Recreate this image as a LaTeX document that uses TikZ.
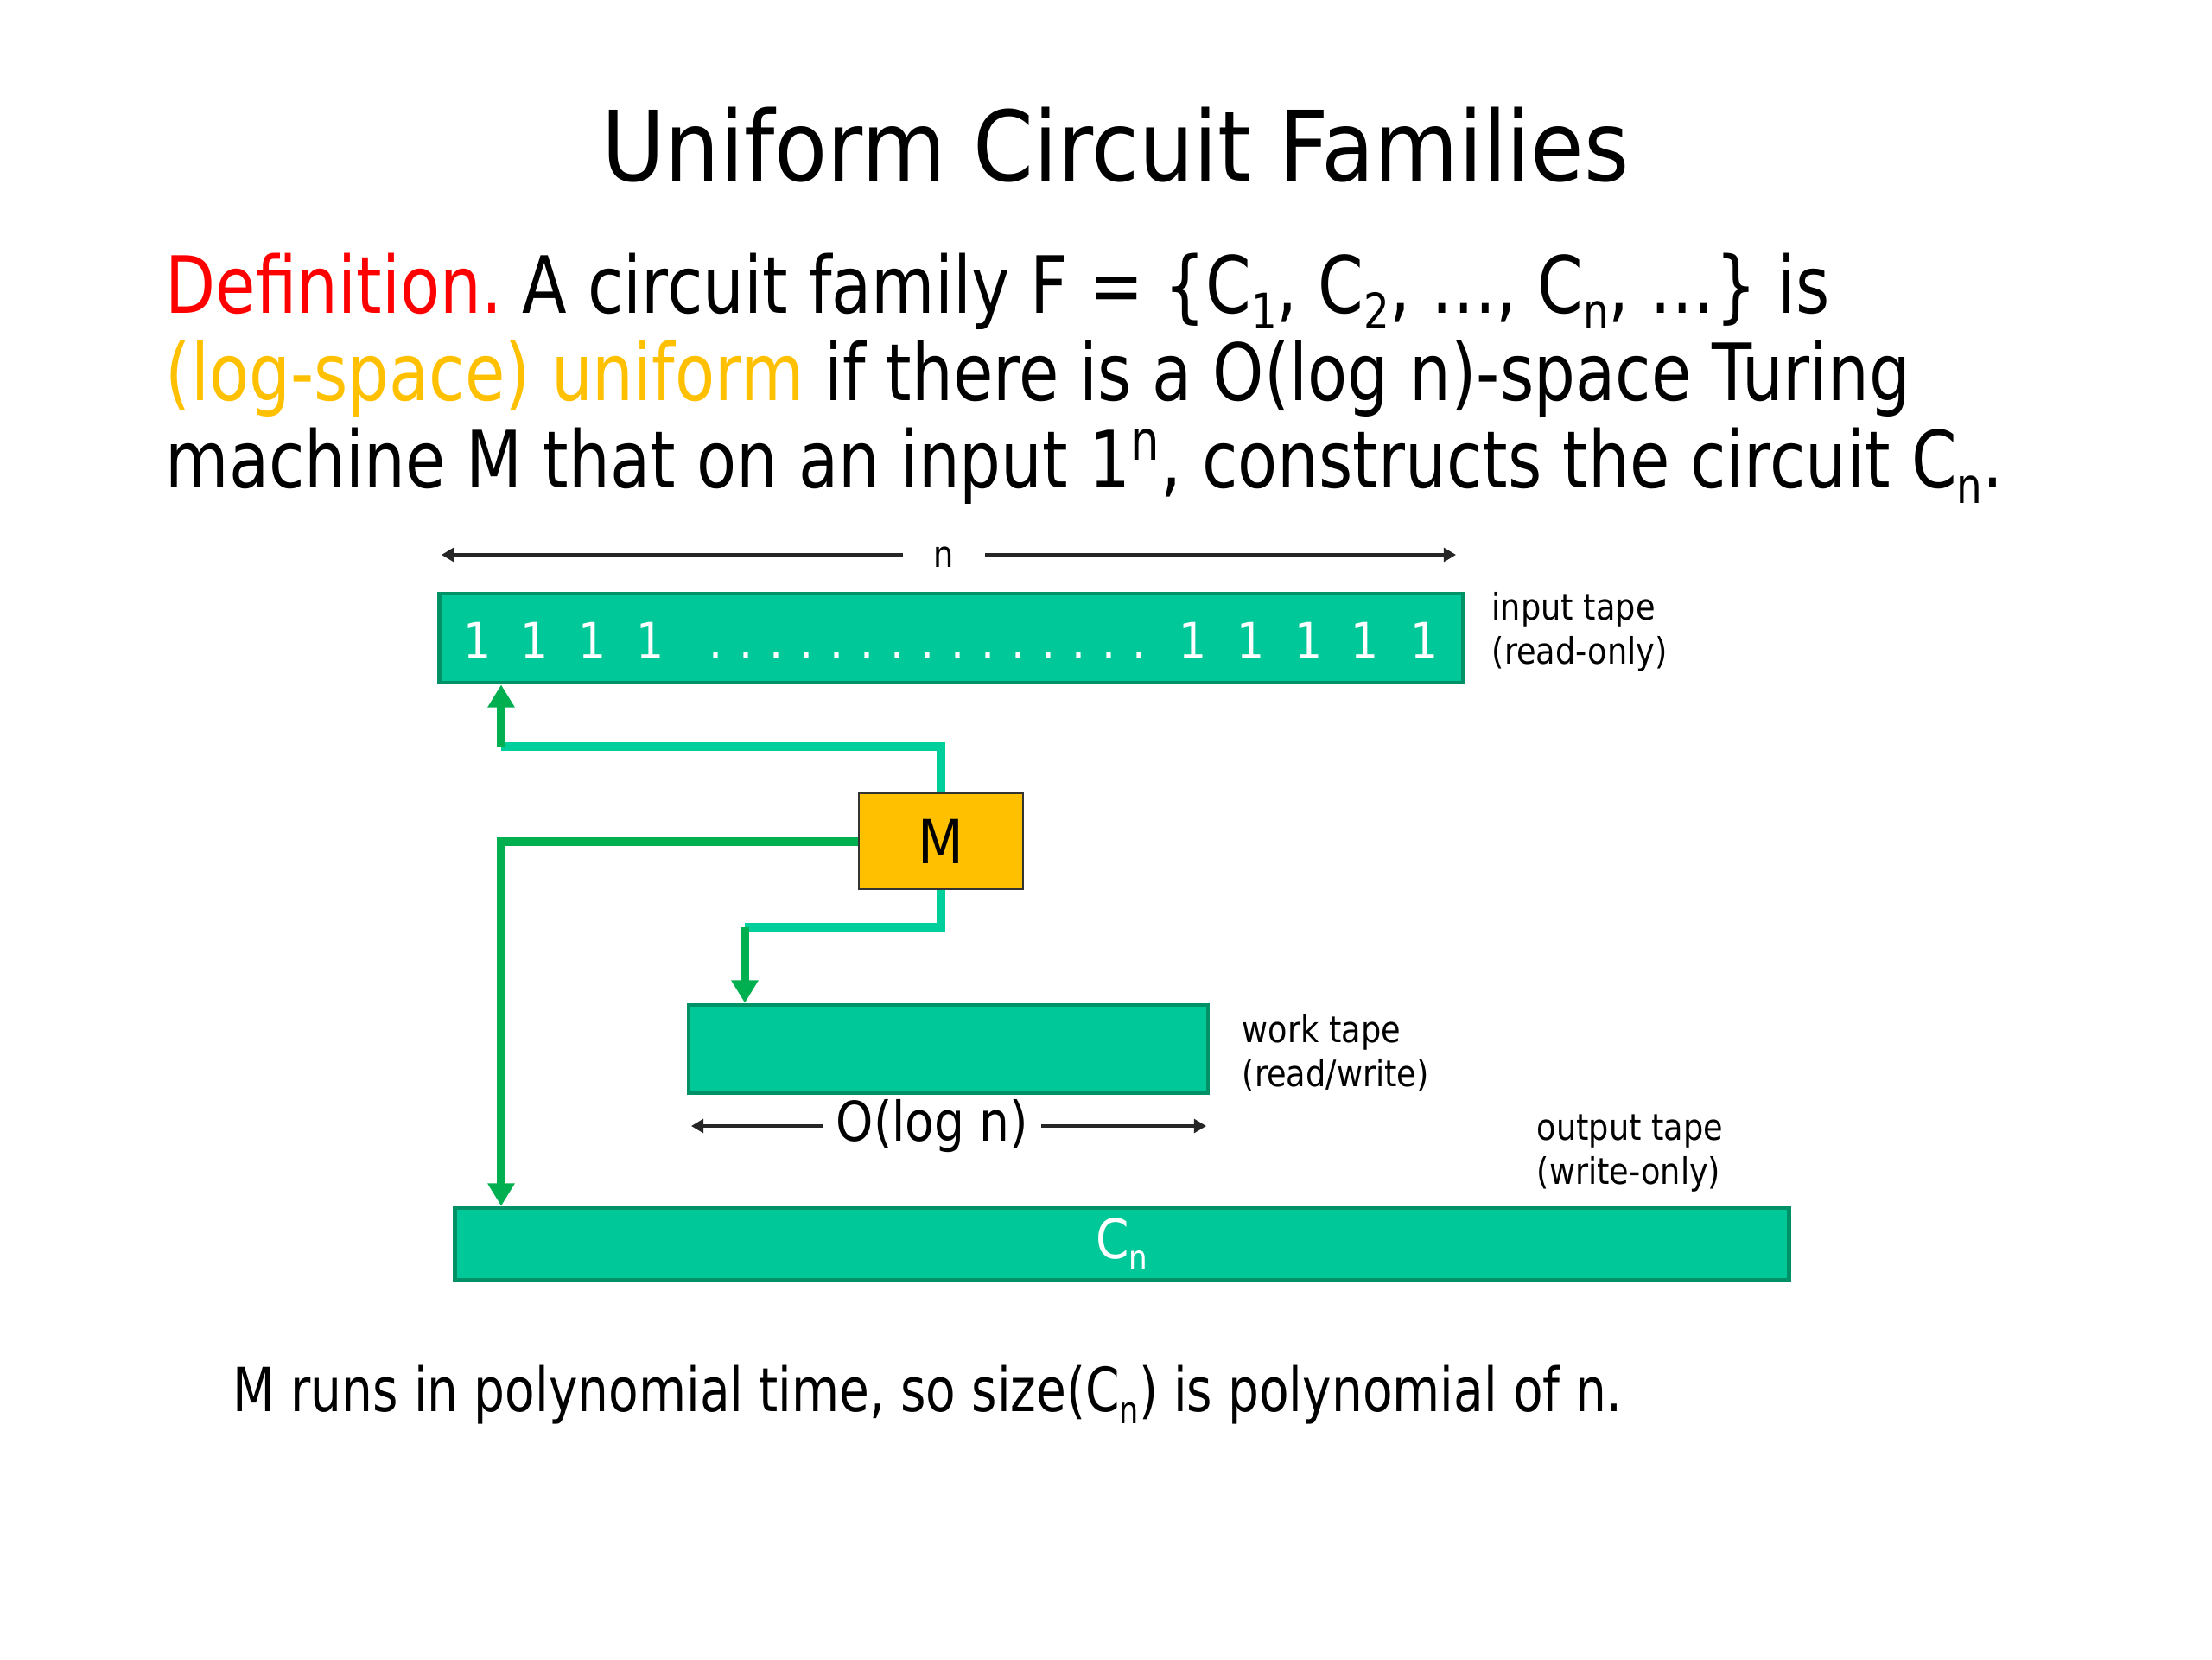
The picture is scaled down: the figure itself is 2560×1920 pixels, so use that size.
\documentclass[tikz,border=0pt]{standalone}
\usepackage{fontspec}
\setmainfont{DejaVu Sans}[FakeStretch=0.87]
\newfontfamily\titlefont{DejaVu Sans}[FakeStretch=0.89]
\newfontfamily\deffont{DejaVu Sans}[FakeStretch=0.825]
\newfontfamily\remfont{DejaVu Sans}[FakeStretch=0.805]
\usetikzlibrary{arrows.meta}
\definecolor{tapefill}{RGB}{0,200,152}
\definecolor{tapeedge}{RGB}{0,145,102}
\definecolor{linkteal}{RGB}{0,206,155}
\definecolor{linkgreen}{RGB}{0,176,80}
\definecolor{mfill}{RGB}{255,192,0}
\definecolor{defred}{RGB}{255,0,0}
\definecolor{uniorange}{RGB}{255,192,0}
\newcommand{\lowsub}[1]{\raisebox{-0.2em}{\fontsize{0.62\dimexpr\fontdimen6\font\relax}{1em}\selectfont #1}}
\begin{document}
\frenchspacing
\begin{tikzpicture}[x=0.01cm,y=-0.01cm,
  tape/.style={draw=tapeedge,fill=tapefill,line width=1.3pt,inner sep=0pt},
  machine/.style={draw=black!80,fill=mfill,line width=0.8pt,minimum width=1.9cm,minimum height=1.11cm,inner sep=0pt,font=\fontsize{20}{24}\selectfont},
  tapelabel/.style={align=left,anchor=west,inner sep=0pt,font=\fontsize{12}{14.5}\selectfont},
  readlink/.style={draw=linkteal,line width=2.85pt},
  arrowlink/.style={draw=linkgreen,line width=2.85pt,-{Triangle[width=8.5pt,length=7.5pt]}},
  dimline/.style={draw=black!85,line width=0.9pt,-{Triangle[width=4.5pt,length=4pt]}},
  bit/.style={text=white,font=\fontsize{16.5}{18}\selectfont,inner sep=0pt,anchor=base},
]
\useasboundingbox[fill=white] (0,0) rectangle (2560,1920);

% title and definition
\node[anchor=base,inner sep=0pt,font=\titlefont\fontsize{32}{38}\selectfont] (title) at (1291,209) {Uniform Circuit Families};
\node[anchor=base west,inner sep=0pt,font=\deffont\fontsize{26}{31}\selectfont] (def1) at (191,362)
  {{\color{defred}Definition.} A circuit family F = \{C\lowsub{1}, C\lowsub{2}, …, C\lowsub{n}, …\} is};
\node[anchor=base west,inner sep=0pt,font=\deffont\fontsize{26}{31}\selectfont] (def2) at (191,463)
  {{\color{uniorange}(log-space) uniform} if there is a O(log n)-space Turing};
\node[anchor=base west,inner sep=0pt,font=\deffont\fontsize{26}{31}\selectfont] (def3) at (191,564)
  {machine M that on an input 1\textsuperscript{n}, constructs the circuit C\lowsub{n}.};

% input tape
\node[tape,minimum width=11.84cm,minimum height=1.03cm] (in) at (1101,738.5) {};
\foreach \x [count=\i] in {553,619,686,753,1381,1448,1515,1580,1649}
  \node[bit] (one\i) at (\x,762) {1};
\foreach \i in {0,...,14}
  \node[bit] (dot\i) at ({829+35*\i},762) {.};
\node[tapelabel] (inlab) at (1726,731) {input tape\\(read-only)};

% n dimension
\node[inner sep=0pt,font=\fontsize{12}{14}\selectfont] (nlab) at (1092,645) {n};
\coordinate (nL) at (511,642);
\coordinate (nR) at (1685,642);
\draw[dimline] (1045,642) -- (nL);
\draw[dimline] (1140,642) -- (nR);

% machine
\node[machine] (M) at (1089,973.5) {M};

% work tape
\node[tape,minimum width=6.01cm,minimum height=1.02cm] (work) at (1097.5,1214) {};
\node[tapelabel] (worklab) at (1437,1219) {work tape\\(read/write)};

% O(log n) dimension
\node[inner sep=0pt,font=\fontsize{18}{22}\selectfont] (loglab) at (1079,1303) {O(log n)};
\coordinate (wL) at (800,1303);
\coordinate (wR) at (1396,1303);
\draw[dimline] (952,1303) -- (wL);
\draw[dimline] (1205,1303) -- (wR);

% output tape
\node[tape,minimum width=15.43cm,minimum height=0.83cm,text=white,font=\fontsize{18}{22}\selectfont] (out) at (1298.5,1439.5) {C\lowsub{n}};
\node[tapelabel] (outlab) at (1778,1335) {output tape\\(write-only)};

% connectors
\coordinate (ja) at (580,864);
\draw[readlink] (M.north) |- (ja);
\draw[arrowlink] (ja) -- (ja |- in.south);

\coordinate (jb) at (580,973.5);
\draw[arrowlink] (M.west) -- (jb) -- (jb |- out.north);

\coordinate (jc) at (862,1073);
\draw[readlink] (M.south) |- (jc);
\draw[arrowlink] (jc) -- (jc |- work.north);

% bottom remark
\node[anchor=base west,inner sep=0pt,font=\remfont\fontsize{20}{24}\selectfont] (remark) at (269,1633)
  {M runs in polynomial time, so size(C\lowsub{n}) is polynomial of n.};
\end{tikzpicture}
\end{document}
